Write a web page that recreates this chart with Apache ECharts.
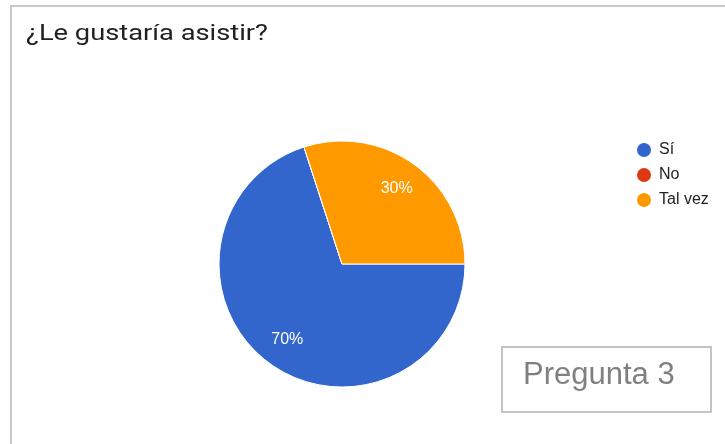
<!DOCTYPE html>
<html>
<head>
<meta charset="utf-8">
<script src="https://cdn.jsdelivr.net/npm/echarts@6/dist/echarts.min.js"></script>
<style>
  html, body { margin: 0; padding: 0; background: #fff; }
  #chart { width: 725px; height: 444px; }
</style>
</head>
<body>
<div id="chart"></div>
<script>
// Survey answers for question 3
const titleText = '¿Le gustaría asistir?';
const categories = ['Sí', 'No', 'Tal vez'];
const shares = [70, 0, 30];
const sliceColors = ['#3366cc', '#dc3912', '#ff9900'];
const noteText = 'Pregunta 3';

const pieData = categories.map((name, i) => ({
  name: name,
  value: shares[i],
  itemStyle: { color: sliceColors[i] }
}));

const center = [342, 264];
const outerRadius = 123;

const chart = echarts.init(document.getElementById('chart'), null, { renderer: 'canvas' });

chart.setOption({
  backgroundColor: '#ffffff',
  animation: false,
  color: sliceColors,
  legend: {
    orient: 'vertical',
    left: 637,
    top: 142,
    padding: 0,
    icon: 'circle',
    itemWidth: 14,
    itemHeight: 14,
    itemGap: 9,
    selectedMode: false,
    data: categories,
    itemStyle: { borderWidth: 0 },
    textStyle: {
      fontFamily: 'Liberation Sans, Arial, sans-serif',
      fontSize: 16,
      color: '#222222',
      padding: [0, 0, 0, 3]
    }
  },
  series: [
    {
      // the slices themselves
      type: 'pie',
      center: center,
      radius: [0, outerRadius],
      startAngle: 0,
      clockwise: true,
      silent: true,
      label: { show: false },
      labelLine: { show: false },
      itemStyle: { borderColor: '#ffffff', borderWidth: 1 },
      data: pieData
    },
    {
      // transparent ring that carries the percentage labels further out
      type: 'pie',
      center: center,
      radius: [57, outerRadius],
      startAngle: 0,
      clockwise: true,
      silent: true,
      legendHoverLink: false,
      itemStyle: { color: 'rgba(0,0,0,0)', borderWidth: 0 },
      label: {
        show: true,
        position: 'inside',
        fontFamily: 'Liberation Sans, Arial, sans-serif',
        fontSize: 16,
        color: '#ffffff',
        formatter: p => (p.value > 0 ? Math.round(p.percent) + '%' : '')
      },
      labelLine: { show: false },
      data: categories.map((name, i) => ({ name: name, value: shares[i] }))
    }
  ],
  graphic: [
    {
      type: 'line',
      shape: { x1: 10, y1: 6, x2: 725, y2: 6 },
      style: { stroke: '#c8c8c8', lineWidth: 2 }
    },
    {
      type: 'line',
      shape: { x1: 11, y1: 5, x2: 11, y2: 444 },
      style: { stroke: '#c8c8c8', lineWidth: 2 }
    },
    {
      // chart title, set a little wide
      type: 'text',
      x: 26,
      y: 23,
      scaleX: 1.24,
      style: {
        text: titleText,
        font: '22px Roboto, sans-serif',
        fill: '#212121'
      }
    },
    {
      type: 'rect',
      shape: { x: 502, y: 347, width: 209, height: 65 },
      style: { fill: '#ffffff', stroke: '#c4c4c4', lineWidth: 2 }
    },
    {
      type: 'text',
      left: 523,
      top: 360,
      style: {
        text: noteText,
        font: '31px "Liberation Sans", Arial, sans-serif',
        fill: '#808080'
      }
    }
  ]
});
</script>
</body>
</html>
